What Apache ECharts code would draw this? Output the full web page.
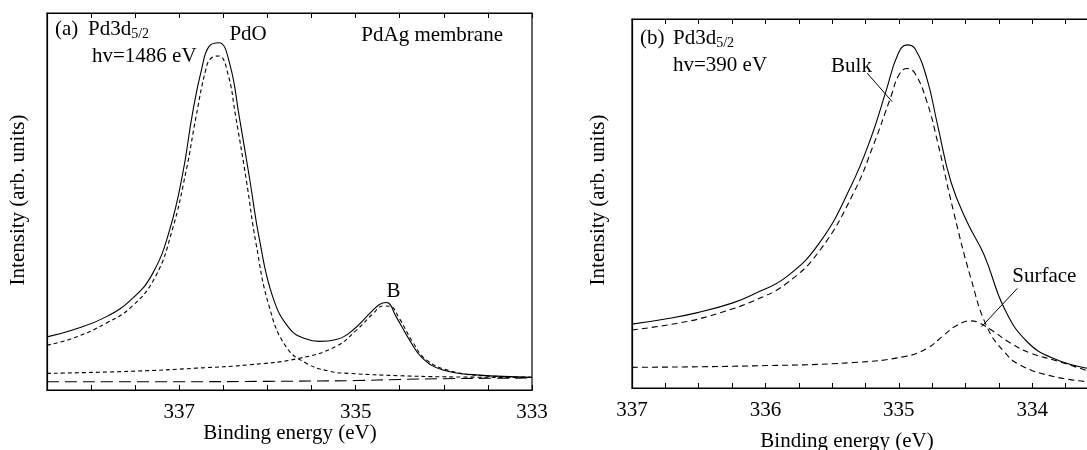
<!DOCTYPE html>
<html>
<head>
<meta charset="utf-8">
<script src="https://cdn.jsdelivr.net/npm/echarts@6/dist/echarts.min.js"></script>
<style>
  html, body { margin: 0; padding: 0; background: #fff; overflow: hidden; }
  #chart { width: 1110px; height: 450px; }
</style>
</head>
<body>
<div id="chart"></div>
<script>
// ---- Panel (a): Pd3d5/2, hv = 1486 eV, PdAg membrane ----
const aTotalE = [338.5, 338.21, 337.83, 337.53, 337.3, 337.11, 336.96, 336.85, 336.74, 336.66, 336.55, 336.43, 336.32, 336.2, 336.09, 335.94, 335.75, 335.56, 335.41, 335.22, 335.03, 334.84, 334.73, 334.65, 334.54, 334.39, 334.24, 334.01, 333.63, 333.0];
const aTotalI = [14.1, 15.9, 19.4, 24.3, 31.0, 42.4, 57.5, 73.4, 85.8, 91.2, 92.1, 86.7, 72.5, 55.7, 39.8, 24.7, 16.3, 13.5, 12.9, 13.4, 15.9, 20.3, 22.7, 23.2, 19.4, 13.3, 8.4, 5.3, 4.0, 3.4];

const aPdoE = [338.5, 338.21, 337.83, 337.53, 337.27, 337.08, 336.92, 336.81, 336.7, 336.64, 336.55, 336.45, 336.36, 336.24, 336.13, 335.98, 335.79, 335.56, 335.3, 335.07, 334.5, 334.0, 333.0];
const aPdoI = [11.9, 13.7, 17.7, 22.3, 30.1, 42.4, 58.4, 72.5, 84.9, 88.0, 88.6, 84.0, 72.5, 55.7, 38.9, 22.1, 11.5, 7.1, 5.0, 4.4, 3.8, 3.5, 3.3];

const aBE = [338.5, 337.5, 336.8, 336.2, 335.64, 335.22, 334.99, 334.8, 334.69, 334.61, 334.5, 334.35, 334.2, 333.93, 333.55, 333.0];
const aBI = [4.4, 5.0, 5.8, 6.7, 8.4, 11.6, 15.9, 20.3, 22.3, 22.2, 18.8, 12.6, 8.0, 5.1, 3.8, 3.4];

const aBgE = [338.5, 337.0, 336.0, 335.0, 334.5, 334.0, 333.5, 333.0];
const aBgI = [2.2, 2.2, 2.3, 2.5, 2.8, 3.0, 3.1, 3.2];

// ---- Panel (b): Pd3d5/2, hv = 390 eV ----
const bTotalE = [337.0, 336.75, 336.5, 336.25, 336.09, 335.84, 335.59, 335.36, 335.21, 335.09, 335.01, 334.94, 334.88, 334.79, 334.71, 334.61, 334.49, 334.36, 334.21, 334.04, 333.84, 333.58];
const bTotalI = [17.3, 18.7, 20.5, 23.0, 25.4, 30.2, 39.6, 54.6, 67.7, 81.2, 90.2, 93.0, 92.0, 83.9, 71.3, 55.9, 45.1, 36.0, 21.6, 12.6, 8.0, 5.3];

const bBulkE = [337.0, 336.59, 336.34, 336.09, 335.84, 335.59, 335.34, 335.19, 335.06, 335.0, 334.94, 334.88, 334.79, 334.71, 334.59, 334.46, 334.34, 334.21, 334.09, 333.84, 333.58];
const bBulkI = [15.7, 18.0, 20.4, 23.6, 28.4, 37.4, 52.8, 65.9, 78.9, 84.8, 86.6, 85.3, 77.6, 66.7, 47.8, 29.7, 16.6, 9.8, 6.2, 3.1, 1.7];

const bSurfE = [337.0, 336.09, 335.34, 334.96, 334.79, 334.66, 334.56, 334.46, 334.39, 334.29, 334.16, 334.01, 333.84, 333.58];
const bSurfI = [5.6, 6.0, 6.9, 8.5, 10.7, 14.4, 17.1, 18.2, 17.5, 15.3, 12.1, 9.4, 7.6, 4.6];

// Axis ranges and tick labels
const aRange = { min: 333, max: 338.5, step: 0.5 };
const bRange = { min: 333.5, max: 337, step: 0.25 };
const aTickLabels = [337, 335, 333];
const bTickLabels = [337, 336, 335, 334];

const FONT = '"Liberation Serif", "Times New Roman", serif';
const FS = 21;
const zip = (xs, ys) => xs.map((x, i) => [x, ys[i]]);

function textWidth(str, size) {
  const ctx = document.createElement('canvas').getContext('2d');
  ctx.font = size + 'px ' + FONT;
  return ctx.measureText(str).width;
}

function labelFormatter(list) {
  return v => {
    const r = Math.round(v);
    return (Math.abs(v - r) < 1e-6 && list.indexOf(r) >= 0) ? String(r) : '';
  };
}

function xAxisPair(gridIndex, range, labels) {
  const common = {
    gridIndex, type: 'value', inverse: true,
    min: range.min, max: range.max, interval: range.step,
    axisLine: { show: true, lineStyle: { color: '#000', width: 1.2 } },
    axisTick: { show: true, inside: true, length: 5, lineStyle: { color: '#000', width: 1 } },
    splitLine: { show: false }
  };
  return [
    Object.assign({}, common, {
      position: 'bottom',
      axisLabel: { show: true, formatter: labelFormatter(labels), color: '#000', fontFamily: FONT, fontSize: FS, margin: 12 }
    }),
    Object.assign({}, common, { position: 'top', axisLabel: { show: false } })
  ];
}

function yAxis(gridIndex) {
  return {
    gridIndex, type: 'value', min: 0, max: 100,
    axisLine: { show: true, lineStyle: { color: '#000', width: 1.2 } },
    axisTick: { show: false }, axisLabel: { show: false }, splitLine: { show: false }
  };
}

function curve(xi, yi, data, dash) {
  return {
    type: 'line', xAxisIndex: xi, yAxisIndex: yi, data,
    showSymbol: false, smooth: 0.45, silent: true, animation: false,
    lineStyle: { color: '#000', width: 1.1, type: dash || 'solid' }
  };
}

const chart = echarts.init(document.getElementById('chart'), null, { renderer: 'canvas' });

chart.setOption({
  backgroundColor: '#fff',
  animation: false,
  grid: [
    { left: 47, top: 13, width: 485, height: 377, show: true, borderColor: '#000', borderWidth: 1.2 },
    { left: 632, top: 19, width: 467, height: 369, show: true, borderColor: '#000', borderWidth: 1.2 }
  ],
  xAxis: [].concat(xAxisPair(0, aRange, aTickLabels), xAxisPair(1, bRange, bTickLabels)),
  yAxis: [yAxis(0), yAxis(1)],
  series: [
    curve(0, 0, zip(aBgE, aBgI), [12, 6]),
    curve(0, 0, zip(aBE, aBI), [4, 3]),
    curve(0, 0, zip(aPdoE, aPdoI), [4, 3]),
    curve(0, 0, zip(aTotalE, aTotalI)),
    curve(2, 1, zip(bSurfE, bSurfI), [6, 4]),
    curve(2, 1, zip(bBulkE, bBulkI), [6, 4]),
    curve(2, 1, zip(bTotalE, bTotalI))
  ]
});

// Annotations placed in data coordinates
const aNotes = [
  { text: 'PdO', e: 336.22, i: 94.2 },
  { text: 'B', e: 334.57, i: 26.1 }
];
const bNotes = [
  { text: 'Bulk', e: 335.355, i: 87.0 },
  { text: 'Surface', e: 333.91, i: 30.2 }
];
const bLeaders = [
  [[335.237, 85.3], [335.05, 77.6]],
  [[334.112, 27.0], [334.38, 16.6]]
];

function txt(s, x, y, size, align, rot) {
  return {
    type: 'text', x, y, rotation: rot || 0, silent: true,
    style: { text: s, fill: '#000', fontFamily: FONT, fontSize: size, align: align || 'left', verticalAlign: 'middle' }
  };
}

const toA = p => chart.convertToPixel({ xAxisIndex: 0, yAxisIndex: 0 }, p);
const toB = p => chart.convertToPixel({ xAxisIndex: 2, yAxisIndex: 1 }, p);

const g = [];
// panel headers
g.push(txt('(a)', 55, 29, FS));
g.push(txt('Pd3d', 88, 29, FS));
g.push(txt('5/2', 88 + textWidth('Pd3d', FS), 34, 14));
g.push(txt('hv=1486 eV', 92, 56.5, FS));
g.push(txt('PdAg membrane', 503, 35.5, FS, 'right'));

g.push(txt('(b)', 640, 38, FS));
g.push(txt('Pd3d', 673, 38, FS));
g.push(txt('5/2', 673 + textWidth('Pd3d', FS), 43, 14));
g.push(txt('hv=390 eV', 673, 65, FS));

aNotes.forEach(n => { const p = toA([n.e, n.i]); g.push(txt(n.text, p[0], p[1], FS, 'center')); });
bNotes.forEach(n => { const p = toB([n.e, n.i]); g.push(txt(n.text, p[0], p[1], FS, 'center')); });
bLeaders.forEach(l => {
  const p1 = toB(l[0]), p2 = toB(l[1]);
  g.push({ type: 'line', silent: true, shape: { x1: p1[0], y1: p1[1], x2: p2[0], y2: p2[1] }, style: { stroke: '#000', lineWidth: 1 } });
});

// axis titles
g.push(txt('Binding energy (eV)', 290, 433, FS, 'center'));
g.push(txt('Binding energy (eV)', 847, 441, FS, 'center'));
g.push(txt('Intensity (arb. units)', 18, 200, FS, 'center', Math.PI / 2));
g.push(txt('Intensity (arb. units)', 598, 200, FS, 'center', Math.PI / 2));

chart.setOption({ graphic: g });
</script>
</body>
</html>
